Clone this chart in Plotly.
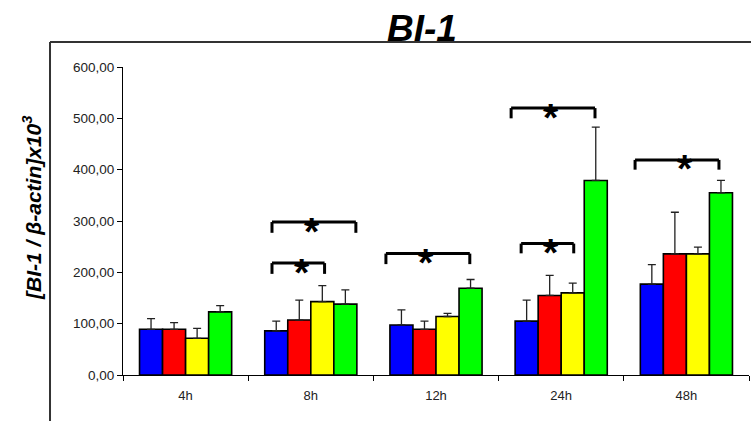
import plotly.graph_objects as go

categories = ["4h", "8h", "12h", "24h", "48h"]
series_names = ["blue", "red", "yellow", "green"]
series_colors = ["#0000FF", "#FF0000", "#FFFF00", "#00FF00"]
blue_vals = [89, 86, 97.5, 105, 177]
red_vals = [89, 107, 89, 155, 236]
yellow_vals = [71.5, 143, 114, 160, 236]
green_vals = [123, 138, 169, 379, 355]
blue_err = [21, 19, 29.5, 41, 38]
red_err = [13, 39, 16, 39, 81]
yellow_err = [19.5, 31, 6, 19, 13]
green_err = [12, 28, 17, 104, 24]
y_ticks = [0, 100, 200, 300, 400, 500, 600]
y_ticktext = ["0,00", "100,00", "200,00", "300,00", "400,00", "500,00", "600,00"]

# significance brackets: (x_left, x_right, y_top, y_leg_bottom, star_x)
brackets = [
    (0.69, 1.36, 298, 277, 1.01),
    (0.69, 1.11, 218, 197, 0.93),
    (1.60, 2.27, 236.5, 216, 1.92),
    (2.60, 3.27, 520, 500, 2.92),
    (2.68, 3.10, 256, 237, 2.92),
    (3.59, 4.26, 419, 400, 3.99),
]

values = [blue_vals, red_vals, yellow_vals, green_vals]
errors = [blue_err, red_err, yellow_err, green_err]
xpos = list(range(len(categories)))

fig = go.Figure()
for name, col, v, e in zip(series_names, series_colors, values, errors):
    fig.add_trace(go.Bar(
        x=xpos, y=v, name=name,
        marker=dict(color=col, line=dict(color="#000000", width=1.6)),
        error_y=dict(type="data", symmetric=False, array=e, arrayminus=[0] * len(e),
                     color="#222222", thickness=1.3, width=4),
    ))

shapes = []
annotations = []
for xl, xr, yt, yb, sx in brackets:
    for (x0, y0, x1, y1) in [(xl, yt, xr, yt), (xl, yt, xl, yb), (xr, yt, xr, yb)]:
        shapes.append(dict(type="line", xref="x", yref="y", x0=x0, y0=y0, x1=x1, y1=y1,
                           line=dict(color="#000000", width=3)))
    annotations.append(dict(x=sx, y=yt, xref="x", yref="y", text="<b>*</b>", showarrow=False,
                            font=dict(family="Liberation Sans, Arial", size=39, color="#000000"),
                            yanchor="middle", yshift=-9))

# outer frame
shapes.append(dict(type="line", xref="paper", yref="paper", x0=-0.1166, y0=-0.2, x1=-0.1166, y1=1.0812,
                   line=dict(color="#333333", width=2)))
shapes.append(dict(type="line", xref="paper", yref="paper", x0=-0.1166, y0=1.0812, x1=1.1, y1=1.0812,
                   line=dict(color="#333333", width=2)))

annotations.append(dict(x=0.478, y=1.0812, xref="paper", yref="paper", text="<b><i>BI-1</i></b>",
                        showarrow=False, yanchor="bottom", yshift=-9,
                        font=dict(family="Liberation Sans, Arial", size=37, color="#000000")))
annotations.append(dict(x=-0.145, y=0.543, xref="paper", yref="paper",
                        text="<b><i>[BI-1 / β-actin]x10<sup>3</sup></i></b>", textangle=-90,
                        showarrow=False, xanchor="center", yanchor="middle",
                        font=dict(family="Liberation Sans, Arial", size=21, color="#000000")))

fig.update_layout(
    width=751, height=421,
    margin=dict(l=123, r=2, t=67, b=46),
    paper_bgcolor="#FFFFFF", plot_bgcolor="#FFFFFF",
    barmode="group", bargap=0.264, bargroupgap=0,
    showlegend=False,
    shapes=shapes, annotations=annotations,
    font=dict(family="Liberation Sans, Arial", size=12, color="#000000"),
    xaxis=dict(range=[-0.5, 4.5], tickvals=xpos, ticktext=categories, ticks="",
               showgrid=False, zeroline=False, showline=True, linecolor="#000000", linewidth=1,
               tickfont=dict(size=13, color="#222222"), ticklabelstandoff=8,
               minor=dict(tickvals=[-0.5, 0.5, 1.5, 2.5, 3.5, 4.5], ticks="outside", ticklen=5,
                          tickcolor="#000000", tickwidth=1, showgrid=False)),
    yaxis=dict(range=[0, 600], tickvals=y_ticks, ticktext=y_ticktext, ticks="outside", ticklen=5,
               tickcolor="#000000", showgrid=False, zeroline=False, showline=True,
               linecolor="#000000", linewidth=1, tickfont=dict(size=13.5, color="#222222")),
)

fig.write_html("out.html", config={"displayModeBar": False},
               post_script="document.body.style.margin='0';document.body.style.overflow='hidden';")
